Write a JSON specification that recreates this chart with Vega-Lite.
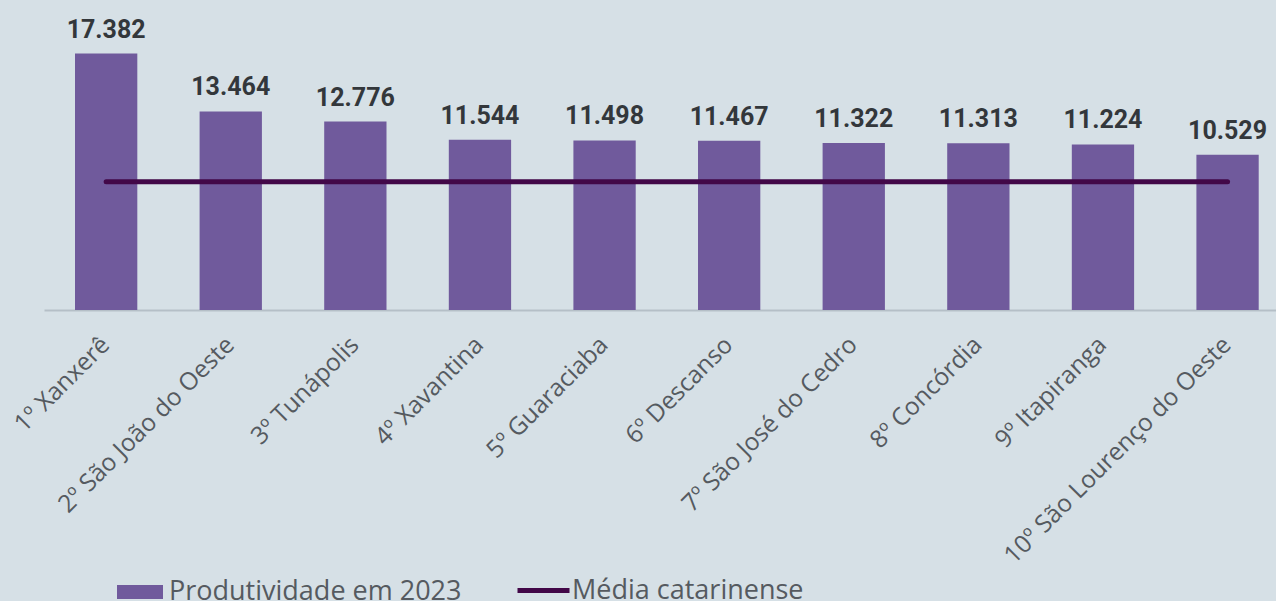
{
  "$schema": "https://vega.github.io/schema/vega-lite/v6.json",
  "autosize": {"type": "none"},
  "padding": {"left": 44, "top": 15, "right": 0, "bottom": 291},
  "width": 1232,
  "height": 295,
  "background": "#d6e0e6",
  "config": {
    "view": {"stroke": null},
    "locale": {"number": {"decimal": ",", "thousands": ".", "grouping": [3], "currency": ["R$", ""]}}
  },
  "data": {
    "values": [
      {"municipio": "1º Xanxerê", "valor": 17382, "media": 8700},
      {"municipio": "2º São João do Oeste", "valor": 13464, "media": 8700},
      {"municipio": "3º Tunápolis", "valor": 12776, "media": 8700},
      {"municipio": "4º Xavantina", "valor": 11544, "media": 8700},
      {"municipio": "5º Guaraciaba", "valor": 11498, "media": 8700},
      {"municipio": "6º Descanso", "valor": 11467, "media": 8700},
      {"municipio": "7º São José do Cedro", "valor": 11322, "media": 8700},
      {"municipio": "8º Concórdia", "valor": 11313, "media": 8700},
      {"municipio": "9º Itapiranga", "valor": 11224, "media": 8700},
      {"municipio": "10º São Lourenço do Oeste", "valor": 10529, "media": 8700}
    ]
  },
  "encoding": {
    "x": {
      "field": "municipio",
      "type": "nominal",
      "sort": null,
      "scale": {"paddingInner": 0.5, "paddingOuter": 0.1938, "align": 0.642},
      "axis": {
        "title": null,
        "labelAngle": -45,
        "labelAlign": "right",
        "labelBaseline": "middle",
        "labelPadding": 31,
        "ticks": false,
        "labelFont": "Open Sans",
        "labelFontSize": 24.5,
        "labelColor": "#555a60",
        "labelLimit": 400,
        "domainColor": "#b5bfc7",
        "domainWidth": 2,
        "grid": false
      }
    }
  },
  "layer": [
    {
      "mark": {"type": "bar"},
      "encoding": {
        "y": {"field": "valor", "type": "quantitative", "scale": {"domain": [0, 20000]}, "axis": null},
        "fill": {
          "datum": "Produtividade em 2023",
          "scale": {"range": ["#705a9c"]},
          "legend": {
            "title": null,
            "orient": "none",
            "legendX": 73,
            "legendY": 554,
            "symbolType": "M-1,-0.3H1V0.3H-1Z",
            "symbolSize": 2116,
            "symbolStrokeWidth": 0,
            "labelFont": "Open Sans",
            "labelFontSize": 27,
            "labelColor": "#555a60",
            "labelOffset": 6,
            "labelLimit": 400
          }
        }
      }
    },
    {
      "mark": {"type": "text", "font": "Roboto", "fontWeight": "bold", "fontSize": 25, "color": "#33373b", "baseline": "alphabetic", "dy": -16},
      "encoding": {
        "y": {"field": "valor", "type": "quantitative"},
        "text": {"field": "valor", "type": "quantitative", "format": ",.0f"}
      }
    },
    {
      "mark": {"type": "line", "strokeWidth": 5, "strokeCap": "round"},
      "encoding": {
        "y": {"field": "media", "type": "quantitative"},
        "stroke": {
          "datum": "Média catarinense",
          "scale": {"range": ["#420848"]},
          "legend": {
            "title": null,
            "orient": "none",
            "legendX": 471,
            "legendY": 547,
            "symbolType": "stroke",
            "symbolSize": 2704,
            "symbolStrokeWidth": 5,
            "labelFont": "Open Sans",
            "labelFontSize": 27,
            "labelColor": "#555a60",
            "labelOffset": 0,
            "labelLimit": 400
          }
        }
      }
    }
  ]
}
